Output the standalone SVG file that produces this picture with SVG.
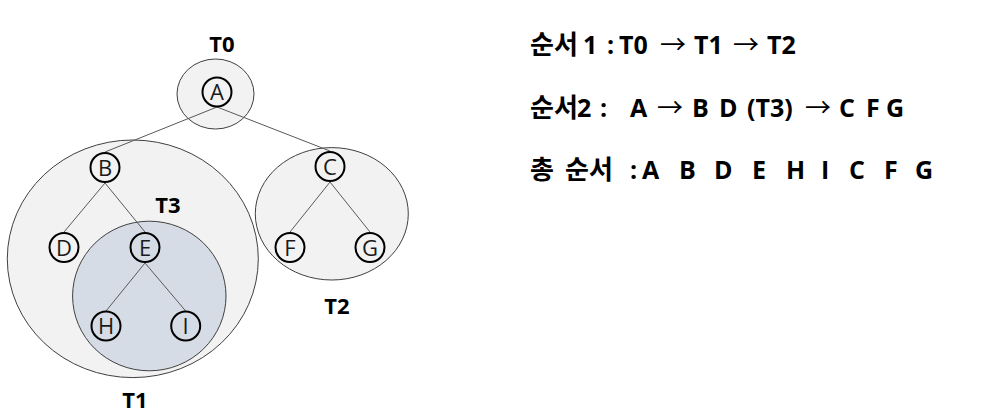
<svg xmlns="http://www.w3.org/2000/svg" width="986" height="414" viewBox="0 0 986 414">
<style>
.enc{fill:#f2f2f2;stroke:#404040;stroke-width:1}
.t3{fill:#d6dce5;stroke:#404040;stroke-width:1}
.edge{stroke:#595959;stroke-width:1;fill:none}
.node{fill:none;stroke:#000;stroke-width:2}
.nl{font-family:"Open Sans","Noto Sans",sans-serif;font-size:22px;fill:#1a1a1a;text-anchor:middle}
.lbl{font-family:"Open Sans","Noto Sans",sans-serif;font-size:22px;font-weight:bold;fill:#000;text-anchor:middle}
.txt{font-family:"Open Sans","Noto Sans CJK KR",sans-serif;font-size:25px;font-weight:bold;fill:#000}
.ko{font-family:"Noto Sans CJK KR",sans-serif;font-size:26px}
.ar{font-family:"Noto Sans CJK KR",sans-serif;font-size:26px;font-weight:normal}
</style>
<rect width="986" height="414" fill="#fff"/>
<g id="T1"><ellipse class="enc" cx="132.8" cy="258.8" rx="125.5" ry="118.8"/><text class="lbl" x="135" y="408">T1</text></g>
<g id="T2"><ellipse class="enc" cx="331.8" cy="213.8" rx="76.5" ry="66.2"/><text class="lbl" x="337" y="314">T2</text></g>
<g id="T0"><ellipse class="enc" cx="215.5" cy="94" rx="38.5" ry="35"/><text class="lbl" x="222" y="52">T0</text></g>
<g id="T3"><ellipse class="t3" cx="149.3" cy="296" rx="76.7" ry="74.8"/><text class="lbl" x="168" y="213">T3</text></g>
<g id="connectors">
<line class="edge" x1="217" y1="107" x2="105" y2="152"/>
<line class="edge" x1="217" y1="107" x2="330" y2="151"/>
<line class="edge" x1="105" y1="183" x2="64" y2="232"/>
<line class="edge" x1="105" y1="183" x2="145" y2="232"/>
<line class="edge" x1="145" y1="263" x2="106" y2="311"/>
<line class="edge" x1="145" y1="263" x2="185.7" y2="311"/>
<line class="edge" x1="330" y1="182" x2="290" y2="232"/>
<line class="edge" x1="330" y1="182" x2="370" y2="232"/>
</g>
<g id="A"><circle class="node" cx="217" cy="92" r="14.5"/><text class="nl" x="217" y="100">A</text></g>
<g id="B"><circle class="node" cx="105" cy="167.5" r="14.5"/><text class="nl" x="105" y="175.5">B</text></g>
<g id="C"><circle class="node" cx="330" cy="166.5" r="14.5"/><text class="nl" x="330" y="174.5">C</text></g>
<g id="D"><circle class="node" cx="64" cy="247.5" r="14.5"/><text class="nl" x="64" y="255.5">D</text></g>
<g id="E"><circle class="node" cx="145" cy="247.5" r="14.5"/><text class="nl" x="145" y="255.5">E</text></g>
<g id="F"><circle class="node" cx="290" cy="247.5" r="14.5"/><text class="nl" x="290" y="255.5">F</text></g>
<g id="G"><circle class="node" cx="370" cy="247.5" r="14.5"/><text class="nl" x="370" y="255.5">G</text></g>
<g id="H"><circle class="node" cx="106" cy="326" r="14.5"/><text class="nl" x="106" y="334">H</text></g>
<g id="I"><circle class="node" cx="185.7" cy="326" r="14.5"/><text class="nl" x="185.7" y="334">I</text></g>
<g id="text">
<text class="txt" y="54"><tspan class="ko" x="530">순서</tspan><tspan x="583">1</tspan><tspan x="607">:</tspan><tspan x="619">T0</tspan><tspan class="ar" x="660">→</tspan><tspan x="694">T1</tspan><tspan class="ar" x="733">→</tspan><tspan x="767">T2</tspan></text>
<text class="txt" y="116.5"><tspan class="ko" x="530">순서</tspan><tspan x="577">2</tspan><tspan x="600">:</tspan><tspan x="630">A</tspan><tspan class="ar" x="657">→</tspan><tspan x="692">B</tspan><tspan x="719">D</tspan><tspan x="747">(T3)</tspan><tspan class="ar" x="805">→</tspan><tspan x="839">C</tspan><tspan x="866">F</tspan><tspan x="886">G</tspan></text>
<text class="txt" y="179"><tspan class="ko" x="530">총</tspan><tspan class="ko" x="565">순서</tspan><tspan x="630">:</tspan><tspan x="642">A</tspan><tspan x="679">B</tspan><tspan x="714">D</tspan><tspan x="752">E</tspan><tspan x="786">H</tspan><tspan x="821">I</tspan><tspan x="849">C</tspan><tspan x="884">F</tspan><tspan x="915">G</tspan></text>
</g>
</svg>
